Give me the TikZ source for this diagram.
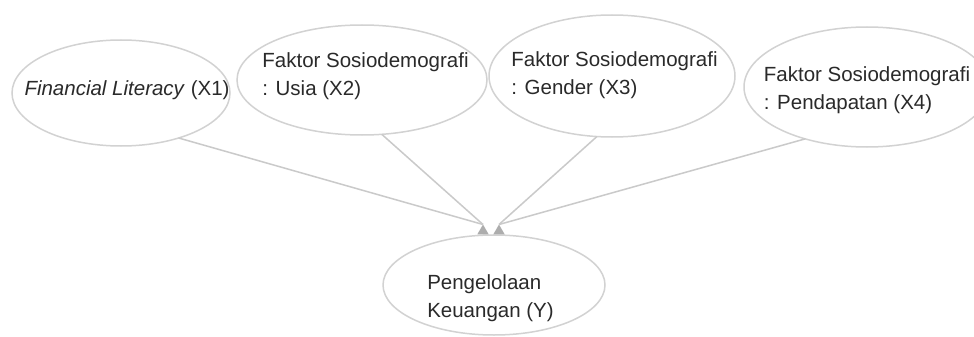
\documentclass[tikz,border=0pt]{standalone}
\usepackage{fontspec}
\setmainfont{Liberation Sans}
\usetikzlibrary{shapes.geometric}
\definecolor{ellcol}{HTML}{D2D2D2}
\definecolor{linecol}{HTML}{CACACA}
\definecolor{headcol}{HTML}{ADADAD}
\definecolor{txtcol}{HTML}{2A2A2A}
\tikzset{
  ell/.style={ellipse, draw=ellcol, line width=1.5pt, inner sep=0pt, outer sep=0pt, fill=white},
  txt/.style={align=left, inner sep=0pt, text=txtcol, font=\fontsize{20.5}{28}\selectfont},
  conn/.style={draw=linecol, line width=1.5pt},
  head/.style={regular polygon, regular polygon sides=3, fill=headcol, draw=none, minimum size=13pt, inner sep=0pt, outer sep=0pt}
}
\begin{document}
\begin{tikzpicture}[x=1pt,y=-1pt]
\useasboundingbox (0,0) rectangle (974,337);
\fill[white] (0,0) rectangle (974,337);
% source ellipses
\node[ell, minimum width=218pt, minimum height=106pt,
  label={[txt, xshift=6pt, yshift=2.6pt]center:{\textit{Financial Literacy} (X1)}}] (x1) at (121,93) {};
\node[ell, minimum width=250pt, minimum height=110pt,
  label={[txt, xshift=3.5pt, yshift=3.4pt]center:{Faktor Sosiodemografi\\: Usia (X2)}}] (x2) at (362,80) {};
\node[ell, minimum width=246pt, minimum height=122pt,
  label={[txt, xshift=2.5pt, yshift=0.4pt]center:{Faktor Sosiodemografi\\: Gender (X3)}}] (x3) at (612,76) {};
\node[ell, minimum width=246pt, minimum height=120pt,
  label={[txt, xshift=0pt, yshift=-3.6pt]center:{Faktor Sosiodemografi\\: Pendapatan (X4)}}] (x4) at (867,87) {};
% target ellipse
\node[ell, minimum width=222pt, minimum height=100pt,
  label={[txt, xshift=-3.5pt, yshift=-13.6pt]center:{Pengelolaan\\Keuangan (Y)}}] (y) at (494,285) {};
% arrow heads
\node[head] (ha) at (483,231) {};
\node[head] (hb) at (499,231) {};
% connectors
\draw[conn] (x1.-38) -- (ha.north);
\draw[conn] (x2.-70) -- (ha.north);
\draw[conn] (x3.-104) -- (hb.north);
\draw[conn] (x4.-140) -- (hb.north);
\end{tikzpicture}
\end{document}
